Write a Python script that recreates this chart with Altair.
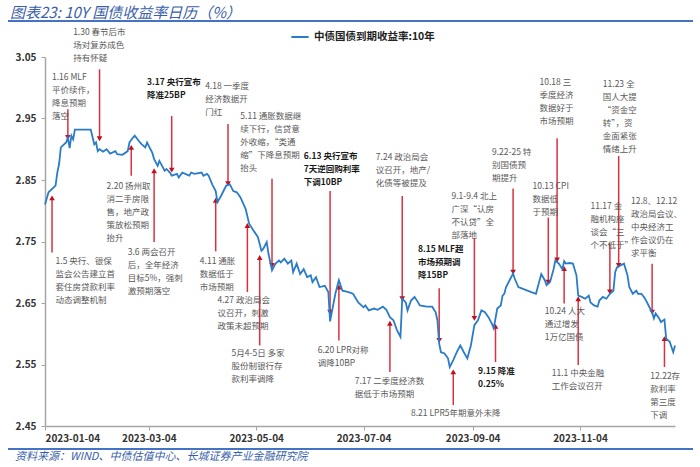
import altair as alt
import pandas as pd

# ---------------- data ----------------
dates = [
    "2023-01-04", "2023-01-06", "2023-01-10", "2023-01-11", "2023-01-12", "2023-01-13", "2023-01-16",
    "2023-01-17", "2023-01-18", "2023-01-19", "2023-01-20", "2023-01-21", "2023-01-30", "2023-02-01",
    "2023-02-02", "2023-02-03", "2023-02-04", "2023-02-06", "2023-02-08", "2023-02-10", "2023-02-13",
    "2023-02-14", "2023-02-17", "2023-02-20", "2023-02-21", "2023-02-23", "2023-02-24", "2023-02-27",
    "2023-02-28", "2023-03-02", "2023-03-03", "2023-03-06", "2023-03-07", "2023-03-09", "2023-03-10",
    "2023-03-13", "2023-03-14", "2023-03-16", "2023-03-17", "2023-03-20", "2023-03-21", "2023-03-23",
    "2023-03-27", "2023-03-28", "2023-03-30", "2023-04-03", "2023-04-04", "2023-04-06", "2023-04-07",
    "2023-04-09", "2023-04-11", "2023-04-12", "2023-04-14", "2023-04-17", "2023-04-19", "2023-04-21",
    "2023-04-23", "2023-04-25", "2023-04-28", "2023-04-30", "2023-05-02", "2023-05-05", "2023-05-07",
    "2023-05-08", "2023-05-10", "2023-05-11", "2023-05-13", "2023-05-15", "2023-05-17", "2023-05-18",
    "2023-05-20", "2023-05-22", "2023-05-24", "2023-05-25", "2023-05-27", "2023-05-29", "2023-05-31",
    "2023-06-02", "2023-06-04", "2023-06-05", "2023-06-07", "2023-06-09", "2023-06-12", "2023-06-14",
    "2023-06-15", "2023-06-18", "2023-06-20", "2023-06-22", "2023-06-25", "2023-06-28", "2023-07-01",
    "2023-07-04", "2023-07-05", "2023-07-07", "2023-07-10", "2023-07-12", "2023-07-15", "2023-07-17",
    "2023-07-19", "2023-07-21", "2023-07-23", "2023-07-25", "2023-07-26", "2023-07-28", "2023-07-29",
    "2023-07-31", "2023-08-02", "2023-08-04", "2023-08-05", "2023-08-09", "2023-08-12", "2023-08-14",
    "2023-08-15", "2023-08-16", "2023-08-17", "2023-08-19", "2023-08-21", "2023-08-22", "2023-08-24",
    "2023-08-26", "2023-08-28", "2023-08-30", "2023-09-01", "2023-09-03", "2023-09-05", "2023-09-07",
    "2023-09-09", "2023-09-11", "2023-09-13", "2023-09-15", "2023-09-16", "2023-09-18", "2023-09-20",
    "2023-09-21", "2023-09-22", "2023-09-23", "2023-09-25", "2023-09-27", "2023-09-28", "2023-09-30",
    "2023-10-07", "2023-10-10", "2023-10-13", "2023-10-15", "2023-10-16", "2023-10-18", "2023-10-20",
    "2023-10-21", "2023-10-23", "2023-10-25", "2023-10-26", "2023-10-27", "2023-10-29", "2023-10-31",
    "2023-11-02", "2023-11-03", "2023-11-05", "2023-11-07", "2023-11-09", "2023-11-10", "2023-11-12",
    "2023-11-14", "2023-11-15", "2023-11-17", "2023-11-19", "2023-11-21", "2023-11-23", "2023-11-24",
    "2023-11-25", "2023-11-27", "2023-11-29", "2023-12-01", "2023-12-02", "2023-12-04", "2023-12-06",
    "2023-12-07", "2023-12-09", "2023-12-11", "2023-12-13", "2023-12-15", "2023-12-16", "2023-12-17",
    "2023-12-19", "2023-12-20", "2023-12-22", "2023-12-23", "2023-12-25", "2023-12-27", "2023-12-28",
]
yields = [
    2.810, 2.830, 2.841, 2.862, 2.876, 2.903, 2.911,
    2.919, 2.902, 2.922, 2.916, 2.932, 2.932, 2.908,
    2.911, 2.897, 2.900, 2.896, 2.900, 2.893, 2.897,
    2.892, 2.891, 2.897, 2.911, 2.919, 2.922, 2.911,
    2.908, 2.903, 2.911, 2.894, 2.884, 2.873, 2.881,
    2.865, 2.868, 2.862, 2.857, 2.860, 2.854, 2.862,
    2.857, 2.862, 2.860, 2.862, 2.857, 2.860, 2.857,
    2.843, 2.832, 2.814, 2.824, 2.841, 2.843, 2.832,
    2.830, 2.822, 2.803, 2.779, 2.770, 2.757, 2.735,
    2.738, 2.749, 2.730, 2.703, 2.714, 2.719, 2.716,
    2.722, 2.714, 2.719, 2.700, 2.714, 2.697, 2.705,
    2.692, 2.695, 2.684, 2.692, 2.676, 2.678, 2.668,
    2.620, 2.665, 2.687, 2.670, 2.668, 2.665, 2.651,
    2.643, 2.646, 2.638, 2.641, 2.639, 2.644, 2.639,
    2.627, 2.622, 2.606, 2.595, 2.657, 2.651, 2.638,
    2.654, 2.660, 2.651, 2.646, 2.644, 2.644, 2.635,
    2.622, 2.584, 2.570, 2.568, 2.560, 2.546, 2.557,
    2.570, 2.581, 2.570, 2.560, 2.581, 2.614, 2.622,
    2.638, 2.635, 2.627, 2.616, 2.609, 2.641, 2.646,
    2.662, 2.665, 2.676, 2.687, 2.698, 2.689, 2.676,
    2.668, 2.665, 2.697, 2.687, 2.679, 2.684, 2.705,
    2.719, 2.714, 2.705, 2.718, 2.714, 2.715, 2.714,
    2.695, 2.662, 2.660, 2.657, 2.662, 2.651, 2.646,
    2.644, 2.654, 2.660, 2.657, 2.665, 2.670, 2.700,
    2.708, 2.711, 2.714, 2.695, 2.676, 2.665, 2.670,
    2.665, 2.665, 2.657, 2.646, 2.635, 2.625, 2.633,
    2.625, 2.619, 2.623, 2.592, 2.587, 2.570, 2.581,
]
series_name = "中债国债到期收益率:10年"

note_texts = [
    "1.16 MLF\n平价续作，\n降息预期\n落空",
    "1.30 春节后市\n场对复苏成色\n持有怀疑",
    "3.17 央行宣布\n降准25BP",
    "4.18 一季度\n经济数据开\n门红",
    "5.11 通胀数据继\n续下行，信贷意\n外收缩，“类通\n缩”下降息预期\n抬头",
    "6.13 央行宣布\n7天逆回购利率\n下调10BP",
    "7.24 政治局会\n议召开，地产/\n化债等被提及",
    "8.15 MLF超\n市场预期调\n降15BP",
    "9.1-9.4 北上\n广深“认房\n不认贷”全\n部落地",
    "9.22-25 特\n别国债预\n期提升",
    "10.13 CPI\n数据低\n于预期",
    "10.18 三\n季度经济\n数据好于\n市场预期",
    "11.17 金\n融机构座\n谈会“三\n个不低于”",
    "11.23 全\n国人大提\n“资金空\n转”，资\n金面紧张\n情绪上升",
    "12.8、12.12\n政治局会议、\n中央经济工\n作会议仍在\n求平衡",
    "1.5 央行、银保\n监会公告建立首\n套住房贷款利率\n动态调整机制",
    "2.20 扬州取\n消二手房限\n售，地产政\n策放松预期\n抬升",
    "3.6 两会召开\n后，全年经济\n目标5%，强刺\n激预期落空",
    "4.11 通胀\n数据低于\n市场预期",
    "4.27 政治局会\n议召开，刺激\n政策未超预期",
    "5月4-5日 多家\n股份制银行存\n款利率调降",
    "6.20 LPR对称\n调降10BP",
    "7.17 二季度经济数\n据低于市场预期",
    "8.21 LPR5年期意外未降",
    "9.15 降准\n0.25%",
    "10.24 人大\n通过增发\n1万亿国债",
    "11.1 中央金融\n工作会议召开",
    "12.22存\n款利率\n第三度\n下调",
]
note_dates = [
    "2023-01-08", "2023-01-20", "2023-03-03", "2023-04-05", "2023-04-25", "2023-05-31", "2023-07-11",
    "2023-08-04", "2023-08-23", "2023-09-15", "2023-10-08", "2023-10-12", "2023-11-10", "2023-11-17",
    "2023-12-03", "2023-01-10", "2023-02-08", "2023-02-20", "2023-04-02", "2023-04-12", "2023-04-20",
    "2023-06-08", "2023-06-29", "2023-07-31", "2023-09-07", "2023-10-15", "2023-10-19", "2023-12-14",
]
note_tops = [
    3.024, 3.097, 3.016, 3.009, 2.961, 2.896, 2.894,
    2.745, 2.831, 2.902, 2.847, 3.016, 2.815, 3.012,
    2.823, 2.724, 2.847, 2.740, 2.724, 2.661, 2.575,
    2.580, 2.529, 2.478, 2.546, 2.643, 2.542, 2.538,
]
note_bold = [
    False, False, True, False, False, True, False,
    True, False, False, False, False, False, False,
    False, False, False, False, False, False, False,
    False, False, False, True, False, False, False,
]
arrow_dates = [
    "2023-01-17", "2023-02-04", "2023-03-17", "2023-04-18", "2023-05-13", "2023-06-15", "2023-07-26",
    "2023-08-16", "2023-09-05", "2023-09-27", "2023-10-17", "2023-10-22", "2023-11-21", "2023-11-26",
    "2023-12-15", "2023-01-08", "2023-02-22", "2023-03-07", "2023-04-11", "2023-04-29", "2023-05-06",
    "2023-06-20", "2023-07-19", "2023-08-24", "2023-09-17", "2023-10-26", "2023-11-03", "2023-12-22",
]
arrow_from = [
    2.965, 3.030, 2.954, 2.941, 2.852, 2.832, 2.824,
    2.674, 2.756, 2.836, 2.789, 2.918, 2.747, 2.889,
    2.714, 2.732, 2.857, 2.749, 2.734, 2.668, 2.581,
    2.589, 2.538, 2.484, 2.554, 2.649, 2.549, 2.546,
]
arrow_to = [
    2.919, 2.917, 2.866, 2.844, 2.711, 2.635, 2.657,
    2.589, 2.625, 2.700, 2.684, 2.720, 2.668, 2.711,
    2.635, 2.821, 2.903, 2.865, 2.817, 2.776, 2.724,
    2.676, 2.617, 2.538, 2.612, 2.706, 2.657, 2.592,
]

y_ticks = [2.45, 2.55, 2.65, 2.75, 2.85, 2.95, 3.05]
x_ticks = [(2023, 1, 4), (2023, 3, 4), (2023, 5, 4), (2023, 7, 4), (2023, 9, 4), (2023, 11, 4)]

title_text = "图表23:  10Y 国债收益率日历（%）"
source_text = "资料来源：WIND、中债估值中心、长城证券产业金融研究院"

# ---------------- styles ----------------
FONT = "Noto Sans CJK SC"
LINE_BLUE = "#2B7CC8"
ARROW_RED = "#D8323F"
HEAD_RED = "#C0101E"
HEADER_BLUE = "#3A5FA8"

df = pd.DataFrame({"date": dates, "value": yields, "series": series_name})
notes = pd.DataFrame({"date": note_dates, "top": note_tops, "text": note_texts, "bold": note_bold})
arrows = pd.DataFrame({"date": arrow_dates, "y0": arrow_from, "y1": arrow_to})
arrows["dir"] = ["down" if b < a else "up" for a, b in zip(arrow_from, arrow_to)]

x_scale = alt.Scale(
    type="utc",
    domain=[alt.DateTime(year=2023, month=1, date=4, utc=True),
            alt.DateTime(year=2023, month=12, date=28, utc=True)],
)
y_scale = alt.Scale(domain=[2.45, 3.05], nice=False, zero=False)

x_axis = alt.Axis(
    values=[alt.DateTime(year=y, month=m, date=d, utc=True) for (y, m, d) in x_ticks],
    format="%Y-%m-%d", title=None, grid=False,
    labelFont=FONT, labelFontSize=10, labelFontWeight="bold", labelColor="#333333",
    domainColor="#A6A6A6", domainWidth=1.5, tickColor="#A6A6A6", tickSize=4, labelPadding=3,
)
y_axis = alt.Axis(
    values=y_ticks, format=".2f", title=None, grid=False,
    labelFont=FONT, labelFontSize=10, labelFontWeight="bold", labelColor="#333333",
    domainColor="#A6A6A6", domainWidth=1.5, tickColor="#A6A6A6", tickSize=4, labelPadding=5,
)

line = alt.Chart(df).mark_line(strokeWidth=1.8).encode(
    x=alt.X("date:T", scale=x_scale, axis=x_axis),
    y=alt.Y("value:Q", scale=y_scale, axis=y_axis),
    color=alt.Color(
        "series:N",
        scale=alt.Scale(range=[LINE_BLUE]),
        legend=alt.Legend(
            orient="none", legendX=245, legendY=-30, title=None,
            symbolType="stroke", symbolStrokeWidth=2, symbolSize=300,
            labelFont=FONT, labelFontSize=10.5, labelFontWeight="bold", labelColor="#222222",
        ),
    ),
)

rules = alt.Chart(arrows).mark_rule(color=ARROW_RED, strokeWidth=1.5).encode(
    x=alt.X("date:T", scale=x_scale),
    y=alt.Y("y0:Q", scale=y_scale),
    y2="y1:Q",
)

heads_down = alt.Chart(arrows[arrows["dir"] == "down"]).mark_point(
    shape="triangle-down", filled=True, color=HEAD_RED, size=32, opacity=1
).encode(x=alt.X("date:T", scale=x_scale), y=alt.Y("y1:Q", scale=y_scale))

heads_up = alt.Chart(arrows[arrows["dir"] == "up"]).mark_point(
    shape="triangle-up", filled=True, color=HEAD_RED, size=32, opacity=1
).encode(x=alt.X("date:T", scale=x_scale), y=alt.Y("y1:Q", scale=y_scale))

text_normal = alt.Chart(notes[~notes["bold"]]).mark_text(
    align="left", baseline="top", lineBreak="\n", lineHeight=13,
    font=FONT, fontSize=8.5, color="#595959",
).encode(x=alt.X("date:T", scale=x_scale), y=alt.Y("top:Q", scale=y_scale), text="text:N")

text_bold = alt.Chart(notes[notes["bold"]]).mark_text(
    align="left", baseline="top", lineBreak="\n", lineHeight=13,
    font=FONT, fontSize=8.5, fontWeight="bold", color="#1A1A1A",
).encode(x=alt.X("date:T", scale=x_scale), y=alt.Y("top:Q", scale=y_scale), text="text:N")

one = pd.DataFrame({"k": [0]})
title_mark = alt.Chart(one).mark_text(
    align="left", baseline="middle", font=FONT, fontSize=15, fontStyle="italic", color=HEADER_BLUE,
).encode(x=alt.value(-35), y=alt.value(-44), text=alt.value(title_text))
top_rule = alt.Chart(one).mark_rule(color="#4472C4", strokeWidth=2).encode(
    x=alt.value(-37), x2=alt.value(648), y=alt.value(-36))
bottom_rule = alt.Chart(one).mark_rule(color="#4472C4", strokeWidth=2).encode(
    x=alt.value(-37), x2=alt.value(648), y=alt.value(392))
source_mark = alt.Chart(one).mark_text(
    align="left", baseline="middle", font=FONT, fontSize=11, fontStyle="italic", color=HEADER_BLUE,
).encode(x=alt.value(-30), y=alt.value(400), text=alt.value(source_text))

chart = alt.layer(
    rules, heads_down, heads_up, line, text_normal, text_bold,
    title_mark, top_rule, bottom_rule, source_mark,
).properties(
    width=630, height=369,
    autosize=alt.AutoSizeParams(type="none"),
    padding={"left": 45, "top": 57, "right": 25, "bottom": 41},
    background="white",
).configure_view(stroke=None)

chart.save("out.html", embed_options={"renderer": "svg", "actions": False})
